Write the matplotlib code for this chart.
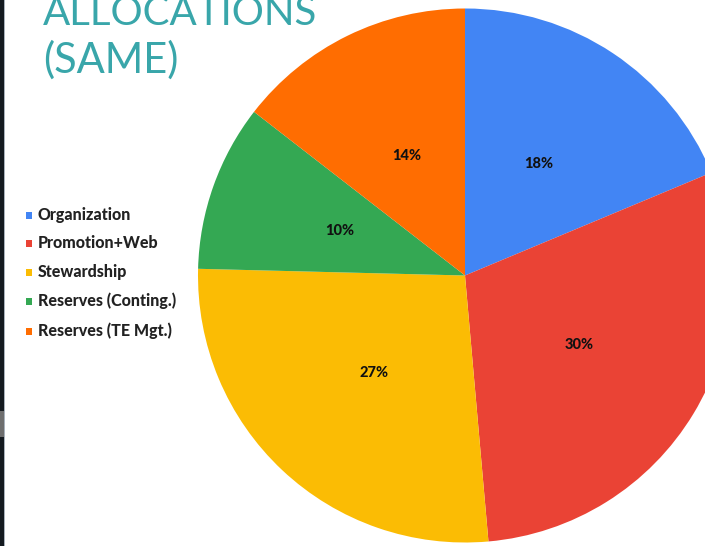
import matplotlib
matplotlib.use("Agg")
import matplotlib.pyplot as plt
from matplotlib.patches import Rectangle
import numpy as np

categories = ["Organization", "Promotion+Web", "Stewardship", "Reserves (Conting.)", "Reserves (TE Mgt.)"]
values = [18.7, 29.9, 26.8, 10.1, 14.5]
pct_labels = ["18%", "30%", "27%", "10%", "14%"]
colors = ["#4285F4", "#EA4335", "#FBBC04", "#34A853", "#FF6D01"]
title_lines = ["ALLOCATIONS", "(SAME)"]

W, H = 705, 546
fig = plt.figure(figsize=(W / 100, H / 100), dpi=100)
fig.patch.set_facecolor("white")

# pie axes: center (465, 275), radius 267 px
cx, cy, r = 465, 275.5, 267
ax = fig.add_axes([(cx - r) / W, (H - cy - r) / H, 2 * r / W, 2 * r / H])
wedges, texts = ax.pie(values, colors=colors, startangle=90, counterclock=False,
                       radius=1, wedgeprops=dict(linewidth=0))
ax.set_xlim(-1, 1)
ax.set_ylim(-1, 1)
ax.set_aspect("equal")
ax.axis("off")
for w in wedges:
    w.set_clip_on(False)

for w, lab in zip(wedges, pct_labels):
    ang = np.deg2rad((w.theta1 + w.theta2) / 2)
    ax.text(0.5 * np.cos(ang), 0.5 * np.sin(ang), lab, ha="center", va="center",
            fontsize=10.5, fontweight="black", family="Lato", color="#111111")

# title
fig.text(43 / W, 1 - 25 / H, title_lines[0], fontsize=29, family="Lato",
         color="#39A6AA", ha="left", va="baseline")
fig.text(43 / W, 1 - 73 / H, title_lines[1], fontsize=30, family="Lato",
         color="#39A6AA", ha="left", va="baseline")

# legend
ys = [215, 243, 272, 301, 331]
for c, name, y in zip(colors, categories, ys):
    fig.patches.append(Rectangle((26 / W, 1 - (y + 3.5) / H), 6 / W, 7 / H,
                                 transform=fig.transFigure, color=c, linewidth=0))
    fig.text(38 / W, 1 - y / H, name, fontsize=11.5, fontweight="black", family="Lato",
             color="#222222", ha="left", va="center")

# dark left edge strip
fig.patches.append(Rectangle((0, 0), 3.5 / W, 1, transform=fig.transFigure,
                             color="#151a20", linewidth=0))
fig.patches.append(Rectangle((3.5 / W, 0), 1.2 / W, 1, transform=fig.transFigure,
                             color="#a9b2bc", linewidth=0))
fig.patches.append(Rectangle((0, 1 - 437 / H), 3.5 / W, 26 / H, transform=fig.transFigure,
                             color="#6e6e6e", linewidth=0))

fig.savefig("out.png", dpi=100)
